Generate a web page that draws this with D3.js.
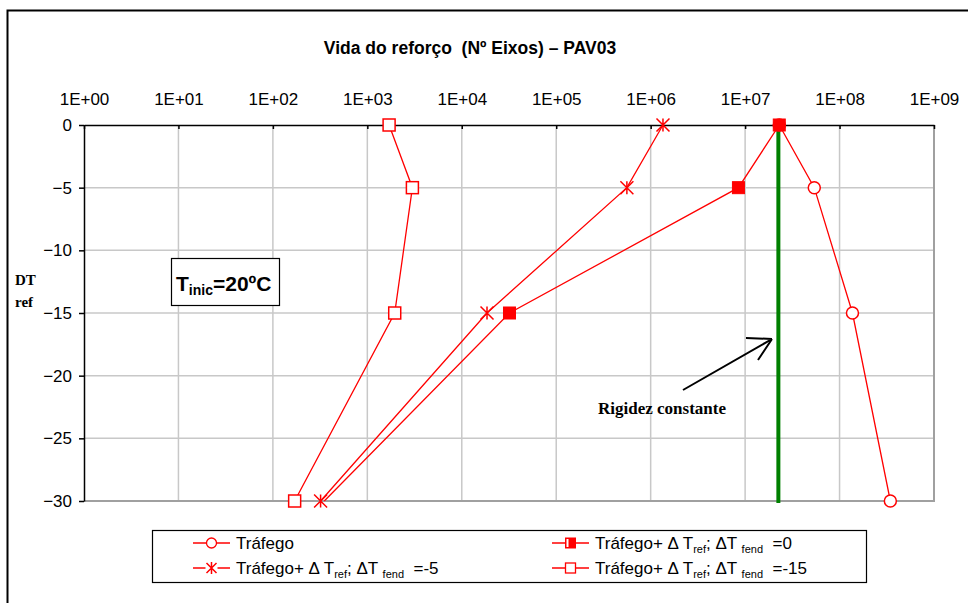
<!DOCTYPE html>
<html><head><meta charset="utf-8">
<script src="https://cdn.jsdelivr.net/npm/d3@7"></script>
<style>body{margin:0;background:#fff}svg{display:block}</style>
</head><body>
<svg id="c" width="968" height="603"></svg>
<script>
const dtRef = [0, -5, -15, -30];
const xTicks = [1e0,1e1,1e2,1e3,1e4,1e5,1e6,1e7,1e8,1e9];
const xTickLabels = ["1E+00","1E+01","1E+02","1E+03","1E+04","1E+05","1E+06","1E+07","1E+08","1E+09"];
const yTicks = [0,-5,-10,-15,-20,-25,-30];
const trafego = [2.3e7, 5.4e7, 1.37e8, 3.45e8];
const dtFend0 = [2.3e7, 8.5e6, 3.2e4, 3.5e2];
const dtFendM5 = [1.35e6, 5.6e5, 1.85e4, 3.2e2];
const dtFendM15 = [1.7e3, 3.0e3, 1.95e3, 1.7e2];
const dtFend0Markers = [true, true, true, false];
const rigidez = 2.25e7;

const svg = d3.select("#c");
const x = d3.scaleLog().domain([1,1e9]).range([84,934]);
const y = d3.scaleLinear().domain([-30,0]).range([501,125]);
const red = "#ff0000";
const SANS = "Liberation Sans, Arial";
const SERIF = "Liberation Serif, Times New Roman";

// outer border
svg.append("rect").attr("x",7.5).attr("y",10.5).attr("width",1000).attr("height",1000)
  .attr("fill","none").attr("stroke","#000").attr("stroke-width",2);

// title
svg.append("text").attr("x",470).attr("y",54).attr("text-anchor","middle")
  .attr("font-family",SANS).attr("font-weight","bold").attr("font-size",17.5)
  .attr("xml:space","preserve").style("white-space","pre")
  .text("Vida do reforço  (Nº Eixos) – PAV03");

// grid
const g = svg.append("g");
g.selectAll(".vg").data(xTicks.slice(1)).enter().append("line")
  .attr("x1",d=>x(d)).attr("x2",d=>x(d)).attr("y1",y(0)).attr("y2",y(-30))
  .attr("stroke","#c8c8c8").attr("stroke-width",1.5);
g.selectAll(".hg").data(yTicks.slice(1)).enter().append("line")
  .attr("x1",x(1)).attr("x2",x(1e9)).attr("y1",d=>y(d)).attr("y2",d=>y(d))
  .attr("stroke","#c8c8c8").attr("stroke-width",1.5);
g.append("line").attr("x1",x(1e9)).attr("x2",x(1e9)).attr("y1",y(0)).attr("y2",y(-30)+1).attr("stroke","#a0a0a0").attr("stroke-width",2);
g.append("line").attr("x1",x(1)).attr("x2",x(1e9)+1).attr("y1",y(-30)).attr("y2",y(-30)).attr("stroke","#a0a0a0").attr("stroke-width",2);

// top axis
const xAxis = d3.axisTop(x).tickValues(xTicks).tickFormat((d,i)=>xTickLabels[i]).tickSizeInner(-4).tickSizeOuter(0).tickPadding(20);
const gx = svg.append("g").attr("transform",`translate(0,${y(0)})`).call(xAxis);
gx.select(".domain").attr("stroke","#000").attr("stroke-width",1.5);
gx.selectAll(".tick line").attr("stroke","#000").attr("stroke-width",1.5);
gx.selectAll(".tick text").attr("font-family",SANS).attr("font-size",17).attr("fill","#000");
// left axis
const yAxis = d3.axisLeft(y).tickValues(yTicks).tickSizeInner(5).tickSizeOuter(0).tickPadding(7);
const gy = svg.append("g").attr("transform",`translate(${x(1)},0)`).call(yAxis);
gy.select(".domain").attr("stroke","#000").attr("stroke-width",1.5);
gy.selectAll(".tick line").attr("stroke","#000").attr("stroke-width",1.5);
gy.selectAll(".tick text").attr("font-family",SANS).attr("font-size",17).attr("fill","#000");

// axis label
svg.append("text").attr("x",15).attr("y",285).attr("font-family",SERIF).attr("font-weight","bold").attr("font-size",15).text("DT");
svg.append("text").attr("x",15).attr("y",307).attr("font-family",SERIF).attr("font-weight","bold").attr("font-size",15).text("ref");

// green line
svg.append("line").attr("x1",x(rigidez)).attr("x2",x(rigidez)).attr("y1",y(0)).attr("y2",y(-30)+2)
  .attr("stroke","#008000").attr("stroke-width",4);

const line = d3.line().x(d=>x(d[0])).y(d=>y(d[1]));
const series = [
  {vals:trafego, m:"circle"},
  {vals:dtFend0, m:"fsquare", show:dtFend0Markers},
  {vals:dtFendM5, m:"star"},
  {vals:dtFendM15, m:"osquare"}
];
function marker(sel, type, cx, cy){
  if(type==="circle") sel.append("circle").attr("cx",cx).attr("cy",cy).attr("r",6).attr("fill","#fff").attr("stroke",red).attr("stroke-width",1.5);
  else if(type==="fsquare") sel.append("rect").attr("x",cx-6).attr("y",cy-6).attr("width",12).attr("height",12).attr("fill",red).attr("stroke",red);
  else if(type==="osquare") sel.append("rect").attr("x",cx-6).attr("y",cy-6).attr("width",12).attr("height",12).attr("fill","#fff").attr("stroke",red).attr("stroke-width",1.5);
  else if(type==="star"){
    const s=6.5;
    sel.append("path").attr("d",`M${cx-s},${cy-s}L${cx+s},${cy+s}M${cx-s},${cy+s}L${cx+s},${cy-s}M${cx},${cy-s}L${cx},${cy+s}`)
      .attr("stroke",red).attr("stroke-width",1.5).attr("fill","none");
  }
}
series.forEach(s=>{
  const pts = s.vals.map((v,i)=>[v,dtRef[i]]);
  svg.append("path").attr("d",line(pts)).attr("fill","none").attr("stroke",red).attr("stroke-width",1.3);
});
series.forEach(s=>{
  const gm = svg.append("g");
  s.vals.forEach((v,i)=>{ if(!s.show || s.show[i]) marker(gm, s.m, x(v), y(dtRef[i])); });
});

// T_inic box
svg.append("rect").attr("x",171.5).attr("y",258.5).attr("width",108).attr("height",47).attr("fill","#fff").attr("stroke","#000").attr("stroke-width",1.2);
const tt = svg.append("text").attr("x",176).attr("y",291).attr("font-family",SANS).attr("font-weight","bold").attr("font-size",21);
tt.append("tspan").text("T");
tt.append("tspan").attr("font-size",14).attr("dy",4).text("inic");
tt.append("tspan").attr("dy",-4).text("=20ºC");

// annotation
svg.append("text").attr("x",598).attr("y",414).attr("font-family",SERIF).attr("font-weight","bold").attr("font-size",17).text("Rigidez constante");
svg.append("path").attr("d","M683,390L772,339M746,338L772,339M758,360L772,339").attr("stroke","#000").attr("stroke-width",2).attr("fill","none");

// legend
svg.append("rect").attr("x",152.5).attr("y",530.5).attr("width",714).attr("height",52).attr("fill","#fff").attr("stroke","#000").attr("stroke-width",1.2);
const legendItems = [
  {m:"circle", x:193, y:543, label:[["Tráfego",0]]},
  {m:"fsquare", x:552, y:543, label:[["Tráfego+ Δ T",0],["ref",1],["; ΔT ",0],["fend",1],["  =0",0]]},
  {m:"star", x:193, y:568, label:[["Tráfego+ Δ T",0],["ref",1],["; ΔT ",0],["fend",1],["  =-5",0]]},
  {m:"osquare", x:552, y:568, label:[["Tráfego+ Δ T",0],["ref",1],["; ΔT ",0],["fend",1],["  =-15",0]]}
];
legendItems.forEach(it=>{
  svg.append("line").attr("x1",it.x).attr("x2",it.x+37).attr("y1",it.y).attr("y2",it.y).attr("stroke",red).attr("stroke-width",1.3);
  const gm = svg.append("g");
  const cx = it.x+18.5, cy = it.y;
  if(it.m==="fsquare"){ gm.append("rect").attr("x",cx-5).attr("y",cy-5).attr("width",10).attr("height",10).attr("fill",red).attr("stroke",red);
    gm.append("rect").attr("x",cx-4).attr("y",cy-4).attr("width",2).attr("height",8).attr("fill","#fff"); }
  else if(it.m==="osquare") gm.append("rect").attr("x",cx-5).attr("y",cy-5).attr("width",10).attr("height",10).attr("fill","#fff").attr("stroke",red).attr("stroke-width",1.3);
  else if(it.m==="circle") gm.append("circle").attr("cx",cx).attr("cy",cy).attr("r",5).attr("fill","#fff").attr("stroke",red).attr("stroke-width",1.3);
  else { const s=5; gm.append("rect").attr("x",cx-6).attr("y",cy-1).attr("width",12).attr("height",2).attr("fill","#fff");
    gm.append("path").attr("d",`M${cx-s},${cy-s}L${cx+s},${cy+s}M${cx-s},${cy+s}L${cx+s},${cy-s}M${cx},${cy-s-1}L${cx},${cy+s+1}`).attr("stroke",red).attr("stroke-width",1.5); }
  const t = svg.append("text").attr("x",it.x+43).attr("y",it.y+6).attr("font-family",SANS).attr("font-size",17).attr("xml:space","preserve").style("white-space","pre");
  let sub=false;
  it.label.forEach(([txt,s])=>{
    const sp = t.append("tspan").text(txt);
    if(s && !sub){ sp.attr("font-size",11).attr("dy",4); sub=true; }
    else if(s && sub){ sp.attr("font-size",11); }
    else if(!s && sub){ sp.attr("dy",-4); sub=false; }
  });
});
</script>
</body></html>
